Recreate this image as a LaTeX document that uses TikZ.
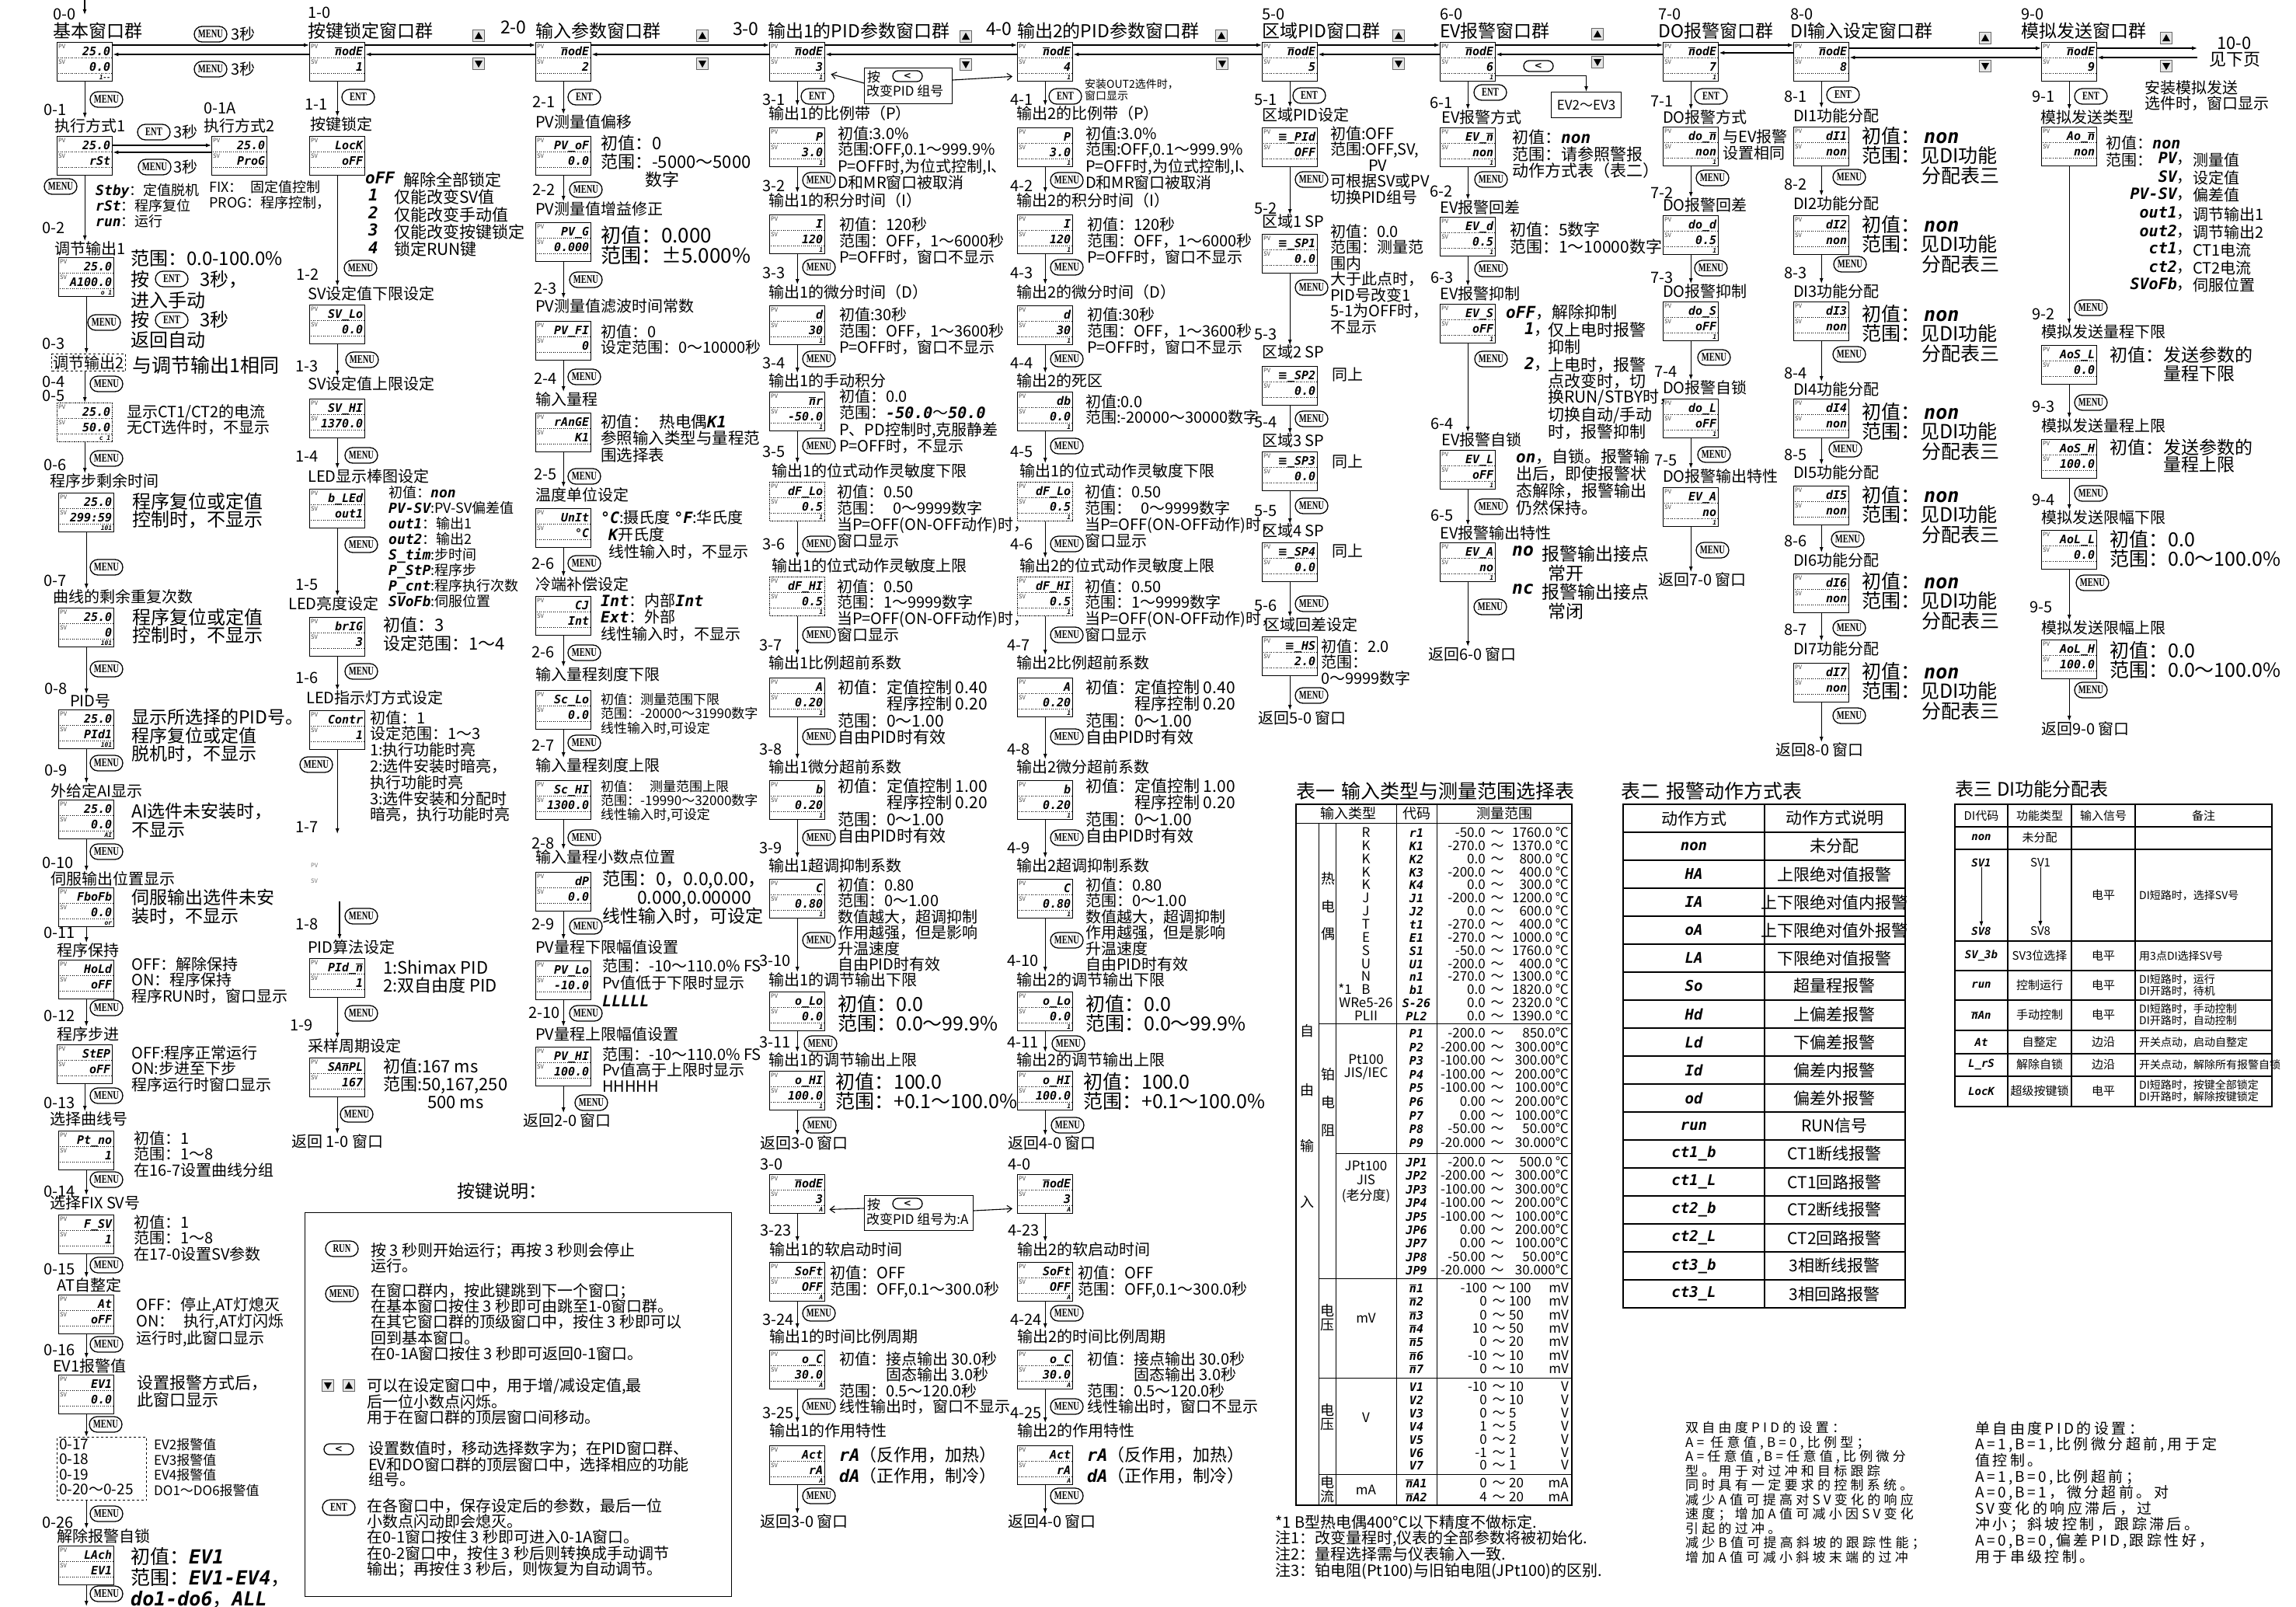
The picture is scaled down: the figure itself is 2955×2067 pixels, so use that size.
\documentclass[tikz,border=0pt]{standalone}
\usepackage{fontspec}
\usepackage{graphicx}
\setmainfont{Noto Sans CJK SC}
\newfontfamily\segfont{DejaVu Sans Mono}
\newfontfamily\djv{DejaVu Sans}
\newfontfamily\keyfont{Liberation Serif}
\usetikzlibrary{arrows.meta, positioning, calc, shapes.misc}

\newcommand{\fs}[2]{\fontsize{#1}{#2}\selectfont}
\newcommand{\sg}[1]{{\segfont\bfseries\itshape #1}}
\newcommand{\mm}{\ensuremath{\overline{\mbox{n}}}}
\newcommand{\zz}{{\djv\bfseries ≡}}
\newcommand{\kt}[1]{\scalebox{0.7}[1]{#1}}
% one display window: name, left, top, PV, SV, index
\newcommand{\lcd}[7][]{%
  \node[lcdbox,#1] (#2) at (#3,#4) {};
  \node[lcdtag] at ($(#2.north west)+(2,3)$) {PV};
  \node[lcdtag] at ($(#2.north west)+(2,23)$) {SV};
  \draw[dotted, line width=0.6pt] ($(#2.north west)+(2,20)$) -- ($(#2.north east)+(-2,20)$);
  \draw[dotted, line width=0.6pt] ($(#2.north west)+(2,40)$) -- ($(#2.north east)+(-2,40)$);
  \node[lcdval] at ($(#2.north east)+(-3,17)$) {#5};
  \node[lcdval] at ($(#2.north east)+(-3,37)$) {#6};
  \node[lcdidx] at ($(#2.north east)+(-3,48)$) {#7};
}
% table rows (baseline y)
\newcommand{\trow}[5]{%
  \node[tcell] at (1758,#1) {#2};
  \node[tcode] at (1823,#1) {#3};
  \node[tcell,anchor=base east] at (1912,#1) {#4};
  \node[tcell] at (1927,#1) {～};
  \node[tcell,anchor=base east] at (2019,#1) {#5};
}
\newcommand{\trowb}[5]{%
  \node[tcode] at (1823,#1) {#2};
  \node[tcell,anchor=base east] at (1914,#1) {#3};
  \node[tcell] at (1929,#1) {～};
  \node[tcell,anchor=base west] at (1942,#1) {#4};
  \node[tcell,anchor=base east] at (2019,#1) {#5};
}
\newcommand{\arow}[3]{%
  \node[acode] at (2180,#1) {#2};
  \node[acell] at (2361,#1) {#3};
}

\begin{document}
\begin{tikzpicture}[x=1pt, y=-1pt,
  arr/.style={-{Latex[length=7pt,width=5pt]}, line width=1.1pt},
  arrb/.style={-{Straight Barb[length=6pt,width=9pt]}, line width=1.1pt},
  lcdbox/.style={draw, line width=1.4pt, anchor=north west, minimum width=71pt, minimum height=50pt, inner sep=0pt},
  lcdtag/.style={anchor=north west, inner sep=0pt, font=\fs{7.5}{7.5}, text=black!75},
  lcdval/.style={anchor=base east, inner sep=0pt, font=\fs{15}{15}\segfont\bfseries\itshape},
  lcdidx/.style={anchor=base east, inner sep=0pt, font=\fs{8}{8}\segfont\bfseries\itshape},
  keycap/.style={draw, line width=1.3pt, rounded rectangle, minimum width=44pt, minimum height=20pt, inner sep=1pt, font=\fs{15}{15}\keyfont\bfseries},
  lkey/.style={keycap, minimum width=40pt, minimum height=14pt, font=\fs{12}{12}\djv\bfseries},
  upbtn/.style={draw=black!60, fill=black!10, minimum size=15pt, inner sep=0pt,
    path picture={\fill[black] ([shift={(-5pt,-4pt)}]path picture bounding box.center) -- ([shift={(5pt,-4pt)}]path picture bounding box.center) -- ([shift={(0pt,5pt)}]path picture bounding box.center) -- cycle;}},
  dnbtn/.style={draw=black!60, fill=black!10, minimum size=15pt, inner sep=0pt,
    path picture={\fill[black] ([shift={(-5pt,4pt)}]path picture bounding box.center) -- ([shift={(5pt,4pt)}]path picture bounding box.center) -- ([shift={(0pt,-5pt)}]path picture bounding box.center) -- cycle;}},
  secno/.style={anchor=north west, inner sep=0pt, font=\fs{20}{20}},
  hdr/.style={anchor=north west, inner sep=0pt, font=\fs{23}{23}},
  ttl/.style={anchor=north west, inner sep=0pt, font=\fs{20}{20}},
  txt/.style={anchor=north west, inner sep=0pt, align=left},
  t14/.style={txt, font=\fs{14}{14.5}},
  t17/.style={txt, font=\fs{17}{18.5}},
  t18/.style={txt, font=\fs{18}{20}},
  t20/.style={txt, font=\fs{20}{20.5}},
  t21/.style={txt, font=\fs{21}{21.5}},
  t22/.style={txt, font=\fs{22}{23}},
  t23/.style={txt, font=\fs{23}{23.5}},
  t25/.style={txt, font=\fs{25}{25.5}},
  t26/.style={txt, font=\fs{26}{26}},
  tcell/.style={inner sep=0pt, anchor=base, font=\fs{17}{17}},
  tcode/.style={inner sep=0pt, anchor=base, font=\fs{15}{15}\segfont\bfseries\itshape},
  acode/.style={inner sep=0pt, font=\fs{19}{19}\segfont\bfseries\itshape},
  acell/.style={inner sep=0pt, font=\fs{21}{21}},
  dcell/.style={inner sep=0pt, font=\fs{15}{15}},
  dcode/.style={inner sep=0pt, font=\fs{14}{14}\segfont\bfseries\itshape},
  dnote/.style={inner sep=0pt, anchor=west, align=left, font=\fs{14}{14.5}}
]
\fill[white] (0,0) rectangle (2955,2067);
\useasboundingbox (0,0) rectangle (2955,2067);

% ---------------- 0: basic windows
\coordinate (in0) at (109,0);
\coordinate (in1) at (109,19);
\draw[arr] (in0) -- (in1);
\node[secno] at (68,11) {0-0};
\node[hdr] at (68,29) {基本窗口群};
\lcd{d00}{73}{54}{25.0}{0.0}{1-{}-}
\node[keycap] (k001) at (271,44) {\kt{MENU}};
\node[ttl,anchor=west] at ($(k001.east)+(5,0)$) {3秒};
\node[keycap] (k002) at (271,89) {\kt{MENU}};
\node[ttl,anchor=west] at ($(k002.east)+(5,0)$) {3秒};

\node[keycap] (k01) at (137,128) {\kt{MENU}};
\node[secno] at (56,134) {0-1};
\node[ttl] (t01) at (70,152) {执行方式1};
\draw[arr] (d00) -- (d00.south |- t01.north);
\lcd{d01}{73}{175}{25.0}{rSt}{}
\node[keycap] (k01e) at (198,170) {\kt{ENT}};
\node[ttl,anchor=west] at ($(k01e.east)+(4,0)$) {3秒};
\node[secno] at (262,132) {0-1A};
\node[ttl] (t01a) at (262,152) {执行方式2};
\lcd{d01a}{272}{175}{25.0}{ProG}{}
\draw[arr] ($(d01.north east)+(0,12)$) -- ($(d01a.north west)+(0,12)$);
\draw[arr] ($(d01a.north west)+(0,21)$) -- ($(d01.north east)+(0,21)$);
\node[keycap] (k01m) at (199,215) {\kt{MENU}};
\node[ttl,anchor=west] at ($(k01m.east)+(3,0)$) {3秒};
\node[keycap] (k02) at (78,240) {\kt{MENU}};
\node[t18] at (123,236) {\sg{Stby}：定值脱机\\\sg{rSt}：程序复位\\\sg{run}：运行};
\node[t18] at (269,232) {FIX：\hspace{10pt}固定值控制\\PROG：程序控制，};

\node[secno] at (54,286) {0-2};
\node[ttl] (t02) at (70,310) {调节输出1};
\draw[arr] (d01) -- (d01.south |- t02.north);
\lcd{d02}{75}{331}{25.0}{A100.0}{o 1}
\node[txt,font=\fs{24}{24}] at (168,321) {范围：0.0-100.0\%};
\node[txt,font=\fs{24}{24}] at (168,348) {按};
\node[keycap] (k02e) at (221,359) {\kt{ENT}};
\node[txt,font=\fs{24}{24}] at (257,348) {3秒，};
\node[txt,font=\fs{24}{24}] at (168,375) {进入手动};
\node[txt,font=\fs{24}{24}] at (168,400) {按};
\node[keycap] (k02f) at (221,412) {\kt{ENT}};
\node[txt,font=\fs{24}{24}] at (257,400) {3秒};
\node[txt,font=\fs{24}{24}] at (168,426) {返回自动};
\node[keycap] (k03) at (134,415) {\kt{MENU}};

\node[secno] at (54,435) {0-3};
\node[ttl, draw, dashed, line width=1pt, inner sep=2pt] (t03) at (66,455) {调节输出2};
\draw[arr] (d02) -- (d02.south |- t03.north);
\node[txt,font=\fs{25}{25}] at (170,458) {与调节输出1相同};
\node[secno] at (54,484) {0-4};
\node[secno] at (54,502) {0-5};
\node[keycap] (k04) at (137,494) {\kt{MENU}};
\lcd[densely dotted]{d05}{73}{518}{25.0}{50.0}{c 1}
\draw[arr] (t03.south -| d05.north) -- (d05.north);
\node[t20] at (163,520) {显示CT1/CT2的电流\\无CT选件时，不显示};

\node[keycap] (k06) at (137,590) {\kt{MENU}};
\node[secno] at (56,591) {0-6};
\node[ttl] (t06) at (64,609) {程序步剩余时间};
\draw[arr] (d05) -- (d05.south |- t06.north);
\lcd{d06}{75}{634}{25.0}{299:59}{101}
\node[txt,font=\fs{24}{23}] at (170,634) {程序复位或定值\\控制时，不显示};

\node[keycap] (k07) at (137,730) {\kt{MENU}};
\node[secno] at (56,740) {0-7};
\node[ttl] (t07) at (68,758) {曲线的剩余重复次数};
\draw[arr] (d06) -- (d06.south |- t07.north);
\lcd{d07}{75}{782}{25.0}{0}{101}
\node[txt,font=\fs{24}{23}] at (170,783) {程序复位或定值\\控制时，不显示};

\node[keycap] (k08) at (137,861) {\kt{MENU}};
\node[secno] at (57,879) {0-8};
\node[ttl] (t08) at (90,893) {PID号};
\draw[arr] (d07) -- (d07.south |- t08.north);
\lcd{d08}{75}{913}{25.0}{PId1}{101}
\node[t23] at (169,912) {显示所选择的PID号。\\程序复位或定值\\脱机时，不显示};

\node[keycap] (k09) at (137,982) {\kt{MENU}};
\node[secno] at (57,984) {0-9};
\node[ttl] (t09) at (65,1008) {外给定AI显示};
\draw[arr] (d08) -- (d08.south |- t09.north);
\lcd{d09}{75}{1029}{25.0}{0.0}{AI}
\node[t23] at (169,1033) {AI选件未安装时，\\不显示};

\node[keycap] (k010) at (137,1096) {\kt{MENU}};
\node[secno] at (54,1103) {0-10};
\node[ttl] (t010) at (65,1121) {伺服输出位置显示};
\draw[arr] (d09) -- (d09.south |- t010.north);
\lcd{d010}{75}{1142}{FboFb}{0.0}{or}
\node[t23] at (169,1144) {伺服输出选件未安\\装时，不显示};

\node[secno] at (56,1193) {0-11};
\node[ttl] (t011) at (73,1213) {程序保持};
\draw[arr] (d010) -- (d010.south |- t011.north);
\lcd{d011}{75}{1235}{HoLd}{oFF}{}
\node[t20] at (169,1231) {OFF：解除保持\\ON：程序保持\\程序RUN时，窗口显示};

\node[keycap] (k012) at (137,1297) {\kt{MENU}};
\node[secno] at (56,1300) {0-12};
\node[ttl] (t012) at (73,1321) {程序步进};
\draw[arr] (d011) -- (d011.south |- t012.north);
\lcd{d012}{73}{1344}{StEP}{oFF}{}
\node[t20] at (169,1345) {OFF:程序正常运行\\ON:步进至下步\\程序运行时窗口显示};

\node[keycap] (k013) at (137,1410) {\kt{MENU}};
\node[secno] at (56,1412) {0-13};
\node[ttl] (t013) at (64,1430) {选择曲线号};
\draw[arr] (d012) -- (d012.south |- t013.north);
\lcd{d013}{75}{1455}{Pt\_no}{1}{}
\node[t20] at (172,1455) {初值：1\\范围：1～8\\在16-7设置曲线分组};

\node[keycap] (k014) at (137,1518) {\kt{MENU}};
\node[secno] at (56,1526) {0-14};
\node[ttl] (t014) at (64,1538) {选择FIX SV号};
\draw[arr] (d013) -- (d013.south |- t014.north);
\lcd{d014}{75}{1563}{F\_SV}{1}{}
\node[t20] at (172,1563) {初值：1\\范围：1～8\\在17-0设置SV参数};

\node[keycap] (k015) at (137,1628) {\kt{MENU}};
\node[secno] at (56,1626) {0-15};
\node[ttl] (t015) at (73,1644) {AT自整定};
\draw[arr] (d014) -- (d014.south |- t015.north);
\lcd{d015}{75}{1666}{At}{oFF}{}
\node[txt,font=\fs{20}{21.5}] at (175,1669) {OFF：停止,AT灯熄灭\\ON：\hspace{12pt}执行,AT灯闪烁\\运行时,此窗口显示};

\node[keycap] (k016) at (137,1730) {\kt{MENU}};
\node[secno] at (56,1730) {0-16};
\node[ttl] (t016) at (68,1748) {EV1报警值};
\draw[arr] (d015) -- (d015.south |- t016.north);
\lcd{d016}{75}{1769}{EV1}{0.0}{}
\node[t21] at (176,1770) {设置报警方式后，\\此窗口显示};

\node[keycap] (k017) at (136,1833) {\kt{MENU}};
\node[draw, dashed, line width=1pt, anchor=north west, minimum width=115pt, minimum height=81pt, inner sep=0pt] (b017) at (73,1849) {};
\draw[arr] (d016) -- (d016.south |- b017.north);
\node[txt,font=\fs{19}{19.5}] at (76,1851) {0-17\\0-18\\0-19\\0-20～0-25};
\node[txt,font=\fs{17}{19.5}] at (198,1851) {EV2报警值\\EV3报警值\\EV4报警值\\DO1～DO6报警值};

\node[keycap] (k026) at (137,1948) {\kt{MENU}};
\node[secno] at (54,1952) {0-26};
\node[ttl] (t026) at (73,1967) {解除报警自锁};
\draw[arr] (b017.south -| d016.south) -- (t026.north -| d016.south);
\lcd{d026}{75}{1989}{LAch}{EV1}{}
\node[txt,font=\fs{25}{27}] at (168,1991) {初值：\sg{EV1}\\范围：\sg{EV1-EV4}，\\\sg{do1-do6}，\sg{ALL}};
\node[keycap] (k027) at (137,2051) {\kt{MENU}};
\coordinate (bot0) at (107,2067);
\draw[arr] (d026) -- (d026.south |- bot0);

% ---------------- 1: key lock
\node[secno] at (396,9) {1-0};
\node[hdr] at (396,29) {按键锁定窗口群};
\node[upbtn] (u10) at (616,46) {};
\node[dnbtn] (v10) at (616,82) {};
\lcd{d10}{398}{54}{\mm odE}{1}{}
\node[keycap] (k11) at (461,125) {\kt{ENT}};
\node[secno] at (392,127) {1-1};
\node[ttl] (t11) at (399,150) {按键锁定};
\draw[arr] (d10) -- (d10.south |- t11.north);
\lcd{d11}{398}{175}{LocK}{oFF}{}
\node[t21] at (470,221) {\sg{oFF}};
\node[t21] at (519,221) {解除全部锁定};
\node[t21] at (474,243) {\sg{1}};
\node[t21] at (507,243) {仅能改变SV值};
\node[t21] at (474,266) {\sg{2}};
\node[t21] at (507,266) {仅能改变手动值};
\node[t21] at (474,288) {\sg{3}};
\node[t21] at (507,288) {仅能改变按键锁定};
\node[t21] at (474,311) {\sg{4}};
\node[t21] at (507,311) {锁定RUN键};

\node[keycap] (k12) at (464,345) {\kt{MENU}};
\node[secno] at (381,346) {1-2};
\node[ttl] (t12) at (396,368) {SV设定值下限设定};
\draw[arr] (d11) -- (d11.south |- t12.north);
\lcd{d12}{398}{392}{SV\_Lo}{0.0}{}

\node[keycap] (k13) at (466,463) {\kt{MENU}};
\node[secno] at (380,464) {1-3};
\node[ttl] (t13) at (396,484) {SV设定值上限设定};
\draw[arr] (d12) -- (d12.south |- t13.north);
\lcd{d13}{398}{513}{SV\_HI}{1370.0}{}

\node[keycap] (k14) at (465,586) {\kt{MENU}};
\node[secno] at (380,580) {1-4};
\node[ttl] (t14) at (396,603) {LED显示棒图设定};
\draw[arr] (d13) -- (d13.south |- t14.north);
\lcd{d14}{398}{629}{b\_LEd}{out1}{}
\node[t18] at (500,625) {初值：\sg{non}\\\sg{PV-SV}:PV-SV偏差值\\\sg{out1}：输出1\\\sg{out2}：输出2\\\sg{S\_tim}:步时间\\\sg{P\_StP}:程序步\\\sg{P\_cnt}:程序执行次数\\\sg{SVoFb}:伺服位置};

\node[keycap] (k15) at (465,701) {\kt{MENU}};
\node[secno] at (380,745) {1-5};
\node[ttl] (t15) at (371,767) {LED亮度设定};
\draw[arr] (d14) -- (d14.south |- t15.north);
\lcd{d15}{398}{794}{brIG}{3}{}
\node[txt,font=\fs{22}{24}] at (493,794) {初值：3\\设定范围：1～4};

\node[keycap] (k16) at (465,864) {\kt{MENU}};
\node[secno] at (380,865) {1-6};
\node[ttl] (t16) at (394,888) {LED指示灯方式设定};
\draw[arr] (d15) -- (d15.south |- t16.north);
\lcd{d16}{398}{914}{Contr}{1}{}
\node[txt,font=\fs{20}{20.8}] at (476,914) {初值：1\\设定范围：1～3\\1:执行功能时亮\\2:选件安装时暗亮，\\执行功能时亮\\3:选件安装和分配时\\暗亮，执行功能时亮};
\node[keycap] (k16m) at (407,984) {\kt{MENU}};

\node[secno] at (380,1057) {1-7};
\coordinate (c17) at (437,1073);
\draw[arr] (d16) -- (d16.south |- c17);
\node[lcdtag, text=black!55] at (400,1111) {PV};
\node[lcdtag, text=black!55] at (400,1131) {SV};
\coordinate (c17b) at (437,1160);
\node[keycap] (k18) at (465,1179) {\kt{MENU}};
\node[secno] at (380,1182) {1-8};
\node[ttl] (t18) at (396,1209) {PID算法设定};
\draw[arr] (c17b) -- (c17b |- t18.north);
\lcd{d18}{398}{1233}{PId\_\mm}{1}{}
\node[t22] at (493,1236) {1:Shimax PID\\2:双自由度 PID};

\node[keycap] (k19) at (465,1304) {\kt{MENU}};
\node[secno] at (373,1312) {1-9};
\node[ttl] (t19) at (396,1336) {采样周期设定};
\draw[arr] (d18) -- (d18.south |- t19.north);
\lcd{d19}{398}{1361}{SA\mm PL}{167}{}
\node[t22] at (493,1362) {初值:167 ms\\范围:50,167,250\\\hspace*{57pt}500 ms};
\node[keycap] (k1r) at (459,1434) {\kt{MENU}};
\node[ttl] (r10) at (375,1459) {返回 1-0 窗口};
\draw[arr] (d19) -- (d19.south |- r10.north);

% ---------------- 2: input parameters
\node[hdr] at (644,27) {2-0};
\node[hdr] at (689,29) {输入参数窗口群};
\node[upbtn] (u20) at (904,46) {};
\node[dnbtn] (v20) at (904,82) {};
\lcd{d20}{689}{54}{\mm odE}{2}{}
\node[keycap] (k21) at (752,125) {\kt{ENT}};
\node[secno] at (685,124) {2-1};
\node[ttl] (t21) at (689,147) {PV测量值偏移};
\draw[arr] (d20) -- (d20.south |- t21.north);
\lcd{d21}{689}{175}{PV\_oF}{0.0}{}
\node[txt,font=\fs{22}{23.5}] at (773,174) {初值：0\\范围：-5000～5000\\\hspace*{57pt}数字};

\node[keycap] (k22) at (754,244) {\kt{MENU}};
\node[secno] at (685,237) {2-2};
\node[ttl] (t22) at (689,259) {PV测量值增益修正};
\draw[arr] (d21) -- (d21.south |- t22.north);
\lcd{d22}{689}{286}{PV\_G}{0.000}{}
\node[t26] at (773,290) {初值：0.000\\范围：±5.000\%};

\node[keycap] (k23) at (754,360) {\kt{MENU}};
\node[secno] at (687,364) {2-3};
\node[ttl] (t23) at (689,384) {PV测量值滤波时间常数};
\draw[arr] (d22) -- (d22.south |- t23.north);
\lcd{d23}{689}{413}{PV\_FI}{0}{}
\node[t20] at (773,417) {初值：0\\设定范围：0～10000秒};

\node[keycap] (k24) at (752,485) {\kt{MENU}};
\node[secno] at (687,480) {2-4};
\node[ttl] (t24) at (689,504) {输入量程};
\draw[arr] (d23) -- (d23.south |- t24.north);
\lcd{d24}{689}{531}{rAnGE}{K1}{}
\node[txt,font=\fs{20.5}{21.5}] at (773,533) {初值：\hspace{14pt}热电偶\sg{K1}\\参照输入类型与量程范\\围选择表};

\node[keycap] (k25) at (752,613) {\kt{MENU}};
\node[secno] at (687,603) {2-5};
\node[ttl] (t25) at (689,627) {温度单位设定};
\draw[arr] (d24) -- (d24.south |- t25.north);
\lcd{d25}{689}{654}{UnIt}{°C}{}
\node[txt,font=\fs{20}{22}] at (773,656) {\sg{°C}:摄氏度 \sg{°F}:华氏度\\\hspace*{10pt}\sg{K}开氏度\\\hspace*{10pt}线性输入时，不显示};

\node[keycap] (k26) at (752,725) {\kt{MENU}};
\node[secno] at (684,718) {2-6};
\node[ttl] (t26) at (689,742) {冷端补偿设定};
\draw[arr] (d25) -- (d25.south |- t26.north);
\lcd{d26}{689}{767}{CJ}{Int}{}
\node[txt,font=\fs{20}{21.5}] at (773,763) {\sg{Int}：内部\sg{Int}\\\sg{Ext}：外部\\线性输入时，不显示};

\node[keycap] (k27) at (752,840) {\kt{MENU}};
\node[secno] at (684,832) {2-6};
\node[ttl] (t27) at (689,858) {输入量程刻度下限};
\draw[arr] (d26) -- (d26.south |- t27.north);
\lcd{d27}{689}{888}{Sc\_Lo}{0.0}{}
\node[t17] at (773,892) {初值：测量范围下限\\范围：-20000～31990数字\\线性输入时,可设定};

\node[keycap] (k28) at (752,956) {\kt{MENU}};
\node[secno] at (684,952) {2-7};
\node[ttl] (t28) at (689,975) {输入量程刻度上限};
\draw[arr] (d27) -- (d27.south |- t28.north);
\lcd{d28}{689}{1004}{Sc\_HI}{1300.0}{}
\node[txt,font=\fs{17}{18}] at (773,1004) {初值：\hspace{12pt}测量范围上限\\范围：-19990～32000数字\\线性输入时,可设定};

\node[keycap] (k29) at (752,1078) {\kt{MENU}};
\node[secno] at (684,1078) {2-8};
\node[ttl] (t29) at (689,1093) {输入量程小数点位置};
\draw[arr] (d28) -- (d28.south |- t29.north);
\lcd{d29}{689}{1122}{dP}{0.0}{}
\node[t23] at (775,1120) {范围：0，0.0,0.00，\\\hspace*{45pt}0.000,0.00000\\线性输入时，可设定};

\node[keycap] (k210) at (754,1192) {\kt{MENU}};
\node[secno] at (684,1182) {2-9};
\node[ttl] (t210) at (689,1209) {PV量程下限幅值设置};
\draw[arr] (d29) -- (d29.south |- t210.north);
\lcd{d210}{689}{1236}{PV\_Lo}{-10.0}{}
\node[txt,font=\fs{20}{22.5}] at (775,1233) {范围：-10～110.0\% FS\\Pv值低于下限时显示\\\sg{LLLLL}};

\node[keycap] (k211) at (754,1304) {\kt{MENU}};
\node[secno] at (680,1296) {2-10};
\node[ttl] (t211) at (689,1321) {PV量程上限幅值设置};
\draw[arr] (d210) -- (d210.south |- t211.north);
\lcd{d211}{689}{1347}{PV\_HI}{100.0}{}
\node[t20] at (775,1347) {范围：-10～110.0\% FS\\Pv值高于上限时显示\\HHHHH};
\node[keycap] (k2r) at (761,1419) {\kt{MENU}};
\node[ttl] (r20) at (673,1432) {返回2-0 窗口};
\draw[arr] (d211) -- (d211.south |- r20.north);

% ---------------- 3: PID of output 1
\node[hdr] at (943,29) {3-0};
\node[hdr] at (988,29) {输出1的PID参数窗口群};
\node[upbtn] (u30) at (1243,47) {};
\node[dnbtn] (v30) at (1243,83) {};
\lcd{d30}{990}{54}{\mm odE}{3}{1}
\node[draw, line width=1.1pt, anchor=north west, minimum width=113pt, minimum height=46pt, inner sep=0pt] (cb30) at (1112,87) {};
\node[t17] at (1116,91) {按};
\node[lkey] (kc30) at (1168,98) {<};
\node[t17] at (1115,109) {改变PID 组号};

\node[keycap] (k31) at (1052,124) {\kt{ENT}};
\node[secno] at (981,121) {3-1};
\node[ttl] (t31) at (989,136) {输出1的比例带（P）};
\draw[arr] (d30) -- (d30.south |- t31.north);
\lcd{d31}{990}{164}{P}{3.0}{1}
\node[t20] at (1078,162) {初值:3.0\%\\范围:OFF,0.1～999.9\%\\P=OFF时,为位式控制,I、\\D和MR窗口被取消};

\node[keycap] (k32) at (1054,232) {\kt{MENU}};
\node[secno] at (981,232) {3-2};
\node[ttl] (t32) at (989,248) {输出1的积分时间（I）};
\draw[arr] (d31) -- (d31.south |- t32.north);
\lcd{d32}{990}{276}{I}{120}{1}
\node[txt,font=\fs{20}{21}] at (1080,279) {初值：120秒\\范围：OFF，1～6000秒\\P=OFF时，窗口不显示};

\node[keycap] (k33) at (1054,344) {\kt{MENU}};
\node[secno] at (981,344) {3-3};
\node[ttl] (t33) at (989,366) {输出1的微分时间（D）};
\draw[arr] (d32) -- (d32.south |- t33.north);
\lcd{d33}{990}{393}{d}{30}{1}
\node[txt,font=\fs{20}{21}] at (1080,395) {初值:30秒\\范围：OFF，1～3600秒\\P=OFF时，窗口不显示};

\node[keycap] (k34) at (1054,462) {\kt{MENU}};
\node[secno] at (981,460) {3-4};
\node[ttl] (t34) at (989,480) {输出1的手动积分};
\draw[arr] (d33) -- (d33.south |- t34.north);
\lcd{d34}{990}{504}{\mm r}{-50.0}{1}
\node[txt,font=\fs{20}{21.5}] at (1080,500) {初值：0.0\\范围：\sg{-50.0}～\sg{50.0}\\P、PD控制时,克服静差\\P=OFF时，不显示};

\node[keycap] (k35) at (1054,574) {\kt{MENU}};
\node[secno] at (981,574) {3-5};
\node[ttl] (t35) at (993,596) {输出1的位式动作灵敏度下限};
\draw[arr] (d34) -- (d34.south |- t35.north);
\lcd[densely dotted]{d35}{990}{620}{dF\_Lo}{0.5}{1}
\node[txt,font=\fs{20}{21}] at (1077,623) {初值：0.50\\范围：\hspace{12pt}0～9999数字\\当P=OFF(ON-OFF动作)时，\\窗口显示};

\node[keycap] (k36) at (1054,700) {\kt{MENU}};
\node[secno] at (981,693) {3-6};
\node[ttl] (t36) at (993,718) {输出1的位式动作灵敏度上限};
\draw[arr] (d35) -- (d35.south |- t36.north);
\lcd[densely dotted]{d36}{990}{742}{dF\_HI}{0.5}{1}
\node[t20] at (1077,745) {初值：0.50\\范围：1～9999数字\\当P=OFF(ON-OFF动作)时，\\窗口显示};

\node[keycap] (k37) at (1054,817) {\kt{MENU}};
\node[secno] at (977,823) {3-7};
\node[ttl] (t37) at (989,843) {输出1比例超前系数};
\draw[arr] (d36) -- (d36.south |- t37.north);
\lcd{d37}{990}{872}{A}{0.20}{1}
\node[t21] at (1078,874) {初值：定值控制 0.40\\\hspace*{63pt}程序控制 0.20\\范围：0～1.00\\自由PID时有效};

\node[keycap] (k38) at (1054,948) {\kt{MENU}};
\node[secno] at (977,957) {3-8};
\node[ttl] (t38) at (989,977) {输出1微分超前系数};
\draw[arr] (d37) -- (d37.south |- t38.north);
\lcd{d38}{990}{1004}{b}{0.20}{1}
\node[t21] at (1078,1001) {初值：定值控制 1.00\\\hspace*{63pt}程序控制 0.20\\范围：0～1.00\\自由PID时有效};

\node[keycap] (k39) at (1054,1078) {\kt{MENU}};
\node[secno] at (977,1084) {3-9};
\node[ttl] (t39) at (989,1104) {输出1超调抑制系数};
\draw[arr] (d38) -- (d38.south |- t39.north);
\lcd{d39}{990}{1131}{C}{0.80}{1}
\node[t20] at (1078,1129) {初值：0.80\\范围：0～1.00\\数值越大，超调抑制\\作用越强，但是影响\\升温速度\\自由PID时有效};

\node[keycap] (k310) at (1054,1210) {\kt{MENU}};
\node[secno] at (977,1229) {3-10};
\node[ttl] (t310) at (989,1251) {输出1的调节输出下限};
\draw[arr] (d39) -- (d39.south |- t310.north);
\lcd{d310}{990}{1276}{o\_Lo}{0.0}{1}
\node[t25] at (1078,1280) {初值：0.0\\范围：0.0～99.9\%};

\node[keycap] (k311) at (1056,1343) {\kt{MENU}};
\node[secno] at (977,1334) {3-11};
\node[ttl] (t311) at (989,1354) {输出1的调节输出上限};
\draw[arr] (d310) -- (d310.south |- t311.north);
\lcd{d311}{990}{1378}{o\_HI}{100.0}{1}
\node[t25] at (1075,1380) {初值：100.0\\范围：+0.1～100.0\%};
\node[keycap] (k3r) at (1055,1448) {\kt{MENU}};
\node[ttl] (r30) at (978,1461) {返回3-0 窗口};
\draw[arr] (d311) -- (d311.south |- r30.north);

\node[secno] at (978,1491) {3-0};
\lcd{d30a}{990}{1511}{\mm odE}{3}{A}
\node[draw, line width=1.1pt, anchor=north west, minimum width=140pt, minimum height=45pt, inner sep=0pt] (cb30a) at (1112,1538) {};
\node[t17] at (1116,1542) {按};
\node[lkey] (kc30a) at (1168,1549) {<};
\node[t17] at (1115,1561) {改变PID 组号为:A};

\node[secno] at (978,1576) {3-23};
\node[ttl] (t323) at (990,1598) {输出1的软启动时间};
\draw[arr] (d30a) -- (d30a.south |- t323.north);
\lcd{d323}{990}{1624}{SoFt}{OFF}{A}
\node[txt,font=\fs{20}{21}] at (1068,1628) {初值：OFF\\范围：OFF,0.1～300.0秒};

\node[keycap] (k324) at (1054,1690) {\kt{MENU}};
\node[secno] at (981,1691) {3-24};
\node[ttl] (t324) at (990,1710) {输出1的时间比例周期};
\draw[arr] (d323) -- (d323.south |- t324.north);
\lcd{d324}{990}{1737}{o\_C}{30.0}{A}
\node[t20] at (1080,1739) {初值：接点输出 30.0秒\\\hspace*{60pt}固态输出 3.0秒\\范围：0.5～120.0秒\\线性输出时，窗口不显示};

\node[keycap] (k325) at (1054,1810) {\kt{MENU}};
\node[secno] at (981,1811) {3-25};
\node[ttl] (t325) at (990,1831) {输出1的作用特性};
\draw[arr] (d324) -- (d324.south |- t325.north);
\lcd{d325}{990}{1860}{Act}{rA}{A}
\node[txt,font=\fs{22}{27}] at (1080,1861) {\sg{rA}（反作用，加热）\\\sg{dA}（正作用，制冷）};
\node[keycap] (k3r2) at (1054,1925) {\kt{MENU}};
\node[ttl] (r30b) at (978,1948) {返回3-0 窗口};
\draw[arr] (d325) -- (d325.south |- r30b.north);

% ---------------- 4: PID of output 2
\node[hdr] at (1269,29) {4-0};
\node[hdr] at (1309,29) {输出2的PID参数窗口群};
\node[upbtn] (u40) at (1572,46) {};
\node[dnbtn] (v40) at (1573,82) {};
\lcd{d40}{1309}{54}{\mm odE}{4}{1}
\node[t14] at (1396,102) {安装OUT2选件时，\\窗口显示};

\node[keycap] (k41) at (1371,124) {\kt{ENT}};
\node[secno] at (1300,121) {4-1};
\node[ttl] (t41) at (1308,136) {输出2的比例带（P）};
\draw[arr] (d40) -- (d40.south |- t41.north);
\lcd{d41}{1309}{164}{P}{3.0}{1}
\node[t20] at (1397,162) {初值:3.0\%\\范围:OFF,0.1～999.9\%\\P=OFF时,为位式控制,I、\\D和MR窗口被取消};

\node[keycap] (k42) at (1373,232) {\kt{MENU}};
\node[secno] at (1300,232) {4-2};
\node[ttl] (t42) at (1308,248) {输出2的积分时间（I）};
\draw[arr] (d41) -- (d41.south |- t42.north);
\lcd{d42}{1309}{276}{I}{120}{1}
\node[txt,font=\fs{20}{21}] at (1399,279) {初值：120秒\\范围：OFF，1～6000秒\\P=OFF时，窗口不显示};

\node[keycap] (k43) at (1373,344) {\kt{MENU}};
\node[secno] at (1300,344) {4-3};
\node[ttl] (t43) at (1308,366) {输出2的微分时间（D）};
\draw[arr] (d42) -- (d42.south |- t43.north);
\lcd{d43}{1309}{393}{d}{30}{1}
\node[txt,font=\fs{20}{21}] at (1399,395) {初值:30秒\\范围：OFF，1～3600秒\\P=OFF时，窗口不显示};

\node[keycap] (k44) at (1373,462) {\kt{MENU}};
\node[secno] at (1300,460) {4-4};
\node[ttl] (t44) at (1308,480) {输出2的死区};
\draw[arr] (d43) -- (d43.south |- t44.north);
\lcd{d44}{1309}{504}{db}{0.0}{1}
\node[t20] at (1397,507) {初值:0.0\\范围:-20000～30000数字};

\node[keycap] (k45) at (1373,574) {\kt{MENU}};
\node[secno] at (1300,574) {4-5};
\node[ttl] (t45) at (1312,596) {输出1的位式动作灵敏度下限};
\draw[arr] (d44) -- (d44.south |- t45.north);
\lcd[densely dotted]{d45}{1309}{620}{dF\_Lo}{0.5}{1}
\node[txt,font=\fs{20}{21}] at (1396,623) {初值：0.50\\范围：\hspace{12pt}0～9999数字\\当P=OFF(ON-OFF动作)时，\\窗口显示};

\node[keycap] (k46) at (1373,700) {\kt{MENU}};
\node[secno] at (1300,693) {4-6};
\node[ttl] (t46) at (1312,718) {输出2的位式动作灵敏度上限};
\draw[arr] (d45) -- (d45.south |- t46.north);
\lcd[densely dotted]{d46}{1309}{742}{dF\_HI}{0.5}{1}
\node[t20] at (1396,745) {初值：0.50\\范围：1～9999数字\\当P=OFF(ON-OFF动作)时，\\窗口显示};

\node[keycap] (k47) at (1373,817) {\kt{MENU}};
\node[secno] at (1296,823) {4-7};
\node[ttl] (t47) at (1308,843) {输出2比例超前系数};
\draw[arr] (d46) -- (d46.south |- t47.north);
\lcd{d47}{1309}{872}{A}{0.20}{1}
\node[t21] at (1397,874) {初值：定值控制 0.40\\\hspace*{63pt}程序控制 0.20\\范围：0～1.00\\自由PID时有效};

\node[keycap] (k48) at (1373,948) {\kt{MENU}};
\node[secno] at (1296,957) {4-8};
\node[ttl] (t48) at (1308,977) {输出2微分超前系数};
\draw[arr] (d47) -- (d47.south |- t48.north);
\lcd{d48}{1309}{1004}{b}{0.20}{1}
\node[t21] at (1397,1001) {初值：定值控制 1.00\\\hspace*{63pt}程序控制 0.20\\范围：0～1.00\\自由PID时有效};

\node[keycap] (k49) at (1373,1078) {\kt{MENU}};
\node[secno] at (1296,1084) {4-9};
\node[ttl] (t49) at (1308,1104) {输出2超调抑制系数};
\draw[arr] (d48) -- (d48.south |- t49.north);
\lcd{d49}{1309}{1131}{C}{0.80}{1}
\node[t20] at (1397,1129) {初值：0.80\\范围：0～1.00\\数值越大，超调抑制\\作用越强，但是影响\\升温速度\\自由PID时有效};

\node[keycap] (k410) at (1373,1210) {\kt{MENU}};
\node[secno] at (1296,1229) {4-10};
\node[ttl] (t410) at (1308,1251) {输出2的调节输出下限};
\draw[arr] (d49) -- (d49.south |- t410.north);
\lcd{d410}{1309}{1276}{o\_Lo}{0.0}{1}
\node[t25] at (1397,1280) {初值：0.0\\范围：0.0～99.9\%};

\node[keycap] (k411) at (1375,1343) {\kt{MENU}};
\node[secno] at (1296,1334) {4-11};
\node[ttl] (t411) at (1308,1354) {输出2的调节输出上限};
\draw[arr] (d410) -- (d410.south |- t411.north);
\lcd{d411}{1309}{1378}{o\_HI}{100.0}{1}
\node[t25] at (1394,1380) {初值：100.0\\范围：+0.1～100.0\%};
\node[keycap] (k4r) at (1374,1448) {\kt{MENU}};
\node[ttl] (r40) at (1297,1461) {返回4-0 窗口};
\draw[arr] (d411) -- (d411.south |- r40.north);

\node[secno] at (1297,1491) {4-0};
\lcd{d40a}{1309}{1511}{\mm odE}{3}{A}
\node[secno] at (1297,1576) {4-23};
\node[ttl] (t423) at (1309,1598) {输出2的软启动时间};
\draw[arr] (d40a) -- (d40a.south |- t423.north);
\lcd{d423}{1309}{1624}{SoFt}{OFF}{A}
\node[txt,font=\fs{20}{21}] at (1387,1628) {初值：OFF\\范围：OFF,0.1～300.0秒};

\node[keycap] (k424) at (1373,1690) {\kt{MENU}};
\node[secno] at (1300,1691) {4-24};
\node[ttl] (t424) at (1309,1710) {输出2的时间比例周期};
\draw[arr] (d423) -- (d423.south |- t424.north);
\lcd{d424}{1309}{1737}{o\_C}{30.0}{A}
\node[t20] at (1399,1739) {初值：接点输出 30.0秒\\\hspace*{60pt}固态输出 3.0秒\\范围：0.5～120.0秒\\线性输出时，窗口不显示};

\node[keycap] (k425) at (1373,1810) {\kt{MENU}};
\node[secno] at (1300,1811) {4-25};
\node[ttl] (t425) at (1309,1831) {输出2的作用特性};
\draw[arr] (d424) -- (d424.south |- t425.north);
\lcd{d425}{1309}{1860}{Act}{rA}{A}
\node[txt,font=\fs{22}{27}] at (1399,1861) {\sg{rA}（反作用，加热）\\\sg{dA}（正作用，制冷）};
\node[keycap] (k4r2) at (1373,1925) {\kt{MENU}};
\node[ttl] (r40b) at (1297,1948) {返回4-0 窗口};
\draw[arr] (d425) -- (d425.south |- r40b.north);

% callouts between 3-0 and 4-0
\draw[arrb] ($(cb30.north west)+(0,20)$) -- ($(d30.south east)+(7,-10)$);
\draw[arrb] ($(cb30.north east)+(0,16)$) -- ($(d40.south west)+(-6,-7)$);
\draw[arrb] ($(cb30a.north west)+(0,17)$) -- ($(d30a.south east)+(5,-6)$);
\draw[arrb] ($(cb30a.north east)+(0,20)$) -- ($(d40a.south west)+(-6,-7)$);

% ---------------- 5: zone PID
\node[secno] at (1624,11) {5-0};
\node[hdr] at (1624,29) {区域PID窗口群};
\node[upbtn] (u50) at (1800,46) {};
\node[dnbtn] (v50) at (1800,82) {};
\lcd{d50}{1624}{54}{\mm odE}{5}{}
\node[keycap] (k51) at (1685,123) {\kt{ENT}};
\node[secno] at (1614,121) {5-1};
\node[ttl] (t51) at (1624,138) {区域PID设定};
\draw[arr] (d50) -- (d50.south |- t51.north);
\lcd{d51}{1624}{164}{\zz\_PId}{OFF}{}
\node[t20] at (1712,162) {初值:OFF\\范围:OFF,SV,\\\hspace*{49pt}PV\\可根据SV或PV\\切换PID组号};

\node[keycap] (k52) at (1688,231) {\kt{MENU}};
\node[secno] at (1614,261) {5-2};
\node[ttl] (t52) at (1624,276) {区域1 SP};
\draw[arr] (d51) -- (d51.south |- t52.north);
\lcd{d52}{1624}{301}{\zz\_SP1}{0.0}{}
\node[t20] at (1712,288) {初值：0.0\\范围：测量范\\围内\\大于此点时，\\PID号改变1\\5-1为OFF时，\\不显示};

\node[keycap] (k53) at (1688,370) {\kt{MENU}};
\node[secno] at (1614,423) {5-3};
\node[ttl] (t53) at (1624,444) {区域2 SP};
\draw[arr] (d52) -- (d52.south |- t53.north);
\lcd{d53}{1624}{471}{\zz\_SP2}{0.0}{}
\node[t20] at (1714,473) {同上};

\node[keycap] (k54) at (1688,539) {\kt{MENU}};
\node[secno] at (1614,536) {5-4};
\node[ttl] (t54) at (1624,558) {区域3 SP};
\draw[arr] (d53) -- (d53.south |- t54.north);
\lcd{d54}{1624}{581}{\zz\_SP3}{0.0}{}
\node[t20] at (1714,585) {同上};

\node[keycap] (k55) at (1688,651) {\kt{MENU}};
\node[secno] at (1614,650) {5-5};
\node[ttl] (t55) at (1624,674) {区域4 SP};
\draw[arr] (d54) -- (d54.south |- t55.north);
\lcd{d55}{1624}{698}{\zz\_SP4}{0.0}{}
\node[t20] at (1714,700) {同上};

\node[keycap] (k56) at (1688,777) {\kt{MENU}};
\node[secno] at (1614,772) {5-6};
\node[ttl] (t56) at (1627,794) {区域回差设定};
\draw[arr] (d55) -- (d55.south |- t56.north);
\lcd{d56}{1624}{819}{\zz\_HS}{2.0}{}
\node[t20] at (1700,822) {初值：2.0\\范围：\\0～9999数字};
\node[keycap] (k5r) at (1688,895) {\kt{MENU}};
\node[ttl] (r50) at (1619,914) {返回5-0 窗口};
\draw[arr] (d56) -- (d56.south |- r50.north);

% ---------------- 6: EV alarms
\node[secno] at (1853,11) {6-0};
\node[hdr] at (1853,29) {EV报警窗口群};
\node[upbtn] (u60) at (2056,44) {};
\node[dnbtn] (v60) at (2056,80) {};
\lcd{d60}{1853}{54}{\mm odE}{6}{1}
\node[lkey] (kc60) at (1980,85) {<};
\node[draw, line width=1pt, anchor=north west, minimum width=90pt, minimum height=33pt, inner sep=0pt, font=\fs{17}{17}] (ev23) at (1996,118) {EV2～EV3};
\draw[arr] ($(d60.south east)+(0,-8)$) -| (ev23.north);

\node[keycap] (k61) at (1918,119) {\kt{ENT}};
\node[secno] at (1840,125) {6-1};
\node[ttl] (t61) at (1855,141) {EV报警方式};
\draw[arr] (d60) -- (d60.south |- t61.north);
\lcd{d61}{1853}{164}{EV\_\mm}{non}{1}
\node[t21] at (1946,167) {初值：\sg{non}\\范围：请参照警报\\动作方式表（表二）};

\node[keycap] (k62) at (1919,231) {\kt{MENU}};
\node[secno] at (1840,239) {6-2};
\node[ttl] (t62) at (1853,257) {EV报警回差};
\draw[arr] (d61) -- (d61.south |- t62.north);
\lcd{d62}{1853}{279}{EV\_d}{0.5}{1}
\node[t21] at (1943,286) {初值：5数字\\范围：1～10000数字};

\node[keycap] (k63) at (1919,346) {\kt{MENU}};
\node[secno] at (1841,350) {6-3};
\node[ttl] (t63) at (1853,368) {EV报警抑制};
\draw[arr] (d62) -- (d62.south |- t63.north);
\lcd{d63}{1853}{391}{EV\_S}{oFF}{1}
\node[t21] at (1938,392) {\sg{oFF}，解除抑制};
\node[t21] at (1962,415) {\sg{1}，};
\node[txt,font=\fs{21}{22}] at (1992,415) {仅上电时报警\\抑制};
\node[t21] at (1962,460) {\sg{2}，};
\node[txt,font=\fs{21}{20.5}] at (1992,460) {上电时，报警\\点改变时，切\\换RUN/STBY时，\\切换自动/手动\\时，报警抑制};
\node[keycap] (k64) at (1919,462) {\kt{MENU}};

\node[secno] at (1841,538) {6-4};
\node[ttl] (t64) at (1855,556) {EV报警自锁};
\draw[arr] (d63) -- (d63.south |- t64.north);
\lcd{d64}{1853}{579}{EV\_L}{oFF}{1}
\node[txt,font=\fs{21}{21.7}] at (1951,578) {\sg{on}，自锁。报警输\\出后，即使报警状\\态解除，报警输出\\仍然保持。};

\node[keycap] (k65) at (1919,652) {\kt{MENU}};
\node[secno] at (1841,656) {6-5};
\node[ttl] (t65) at (1853,676) {EV报警输出特性};
\draw[arr] (d64) -- (d64.south |- t65.north);
\lcd{d65}{1853}{698}{EV\_A}{no}{1}
\node[t23] at (1946,702) {\sg{no}};
\node[txt,font=\fs{23}{25}] at (1984,702) {报警输出接点\\\hspace*{8pt}常开};
\node[t23] at (1946,751) {\sg{nc}};
\node[txt,font=\fs{23}{25}] at (1984,751) {报警输出接点\\\hspace*{8pt}常闭};
\node[keycap] (k6r) at (1918,781) {\kt{MENU}};
\node[ttl] (r60) at (1838,832) {返回6-0 窗口};
\draw[arr] (d65) -- (d65.south |- r60.north);

% ---------------- 7: DO alarms
\node[secno] at (2134,11) {7-0};
\node[hdr] at (2134,29) {DO报警窗口群};
\lcd{d70}{2140}{54}{\mm odE}{7}{1}
\node[keycap] (k71) at (2202,124) {\kt{ENT}};
\node[secno] at (2124,123) {7-1};
\node[ttl] (t71) at (2140,141) {DO报警方式};
\draw[arr] (d70) -- (d70.south |- t71.north);
\lcd{d71}{2140}{163}{do\_\mm}{non}{1}
\node[txt,font=\fs{20}{21}] at (2217,166) {与EV报警\\设置相同};

\node[keycap] (k72) at (2204,229) {\kt{MENU}};
\node[secno] at (2124,241) {7-2};
\node[ttl] (t72) at (2140,254) {DO报警回差};
\draw[arr] (d71) -- (d71.south |- t72.north);
\lcd{d72}{2140}{277}{do\_d}{0.5}{1}

\node[keycap] (k73) at (2202,345) {\kt{MENU}};
\node[secno] at (2124,350) {7-3};
\node[ttl] (t73) at (2140,365) {DO报警抑制};
\draw[arr] (d72) -- (d72.south |- t73.north);
\lcd{d73}{2140}{388}{do\_S}{oFF}{1}

\node[keycap] (k74) at (2206,460) {\kt{MENU}};
\node[secno] at (2129,471) {7-4};
\node[ttl] (t74) at (2140,489) {DO报警自锁};
\draw[arr] (d73) -- (d73.south |- t74.north);
\lcd{d74}{2140}{513}{do\_L}{oFF}{1}

\node[keycap] (k75) at (2206,585) {\kt{MENU}};
\node[secno] at (2129,585) {7-5};
\node[ttl] (t75) at (2140,603) {DO报警输出特性};
\draw[arr] (d74) -- (d74.south |- t75.north);
\lcd{d75}{2140}{627}{EV\_A}{no}{1}
\node[keycap] (k7r) at (2204,708) {\kt{MENU}};
\node[ttl] (r70) at (2134,736) {返回7-0 窗口};
\draw[arr] (d75) -- (d75.south |- r70.north);

% ---------------- 8: DI inputs
\node[secno] at (2304,11) {8-0};
\node[hdr] at (2304,29) {DI输入设定窗口群};
\node[upbtn] (u80) at (2555,49) {};
\node[dnbtn] (v80) at (2555,85) {};
\lcd{d80}{2308}{54}{\mm odE}{8}{}
\node[keycap] (k81) at (2372,122) {\kt{ENT}};
\node[secno] at (2296,117) {8-1};
\node[ttl] (t81) at (2308,139) {DI1功能分配};
\draw[arr] (d80) -- (d80.south |- t81.north);
\lcd{d81}{2308}{163}{dI1}{non}{}
\node[t25] at (2396,163) {初值：\hspace{5pt}\sg{non}\\范围：见DI功能\\\hspace*{77pt}分配表三};

\node[keycap] (k82) at (2380,228) {\kt{MENU}};
\node[secno] at (2296,230) {8-2};
\node[ttl] (t82) at (2308,252) {DI2功能分配};
\draw[arr] (d81) -- (d81.south |- t82.north);
\lcd{d82}{2308}{277}{dI2}{non}{}
\node[t25] at (2396,277) {初值：\hspace{5pt}\sg{non}\\范围：见DI功能\\\hspace*{77pt}分配表三};

\node[keycap] (k83) at (2381,340) {\kt{MENU}};
\node[secno] at (2296,344) {8-3};
\node[ttl] (t83) at (2308,365) {DI3功能分配};
\draw[arr] (d82) -- (d82.south |- t83.north);
\lcd{d83}{2308}{388}{dI3}{non}{}
\node[t25] at (2396,392) {初值：\hspace{5pt}\sg{non}\\范围：见DI功能\\\hspace*{77pt}分配表三};

\node[keycap] (k84) at (2380,456) {\kt{MENU}};
\node[secno] at (2296,473) {8-4};
\node[ttl] (t84) at (2308,491) {DI4功能分配};
\draw[arr] (d83) -- (d83.south |- t84.north);
\lcd{d84}{2308}{513}{dI4}{non}{}
\node[t25] at (2396,518) {初值：\hspace{5pt}\sg{non}\\范围：见DI功能\\\hspace*{77pt}分配表三};

\node[keycap] (k85) at (2375,578) {\kt{MENU}};
\node[secno] at (2296,578) {8-5};
\node[ttl] (t85) at (2308,598) {DI5功能分配};
\draw[arr] (d84) -- (d84.south |- t85.north);
\lcd{d85}{2308}{625}{dI5}{non}{}
\node[t25] at (2396,625) {初值：\hspace{5pt}\sg{non}\\范围：见DI功能\\\hspace*{77pt}分配表三};

\node[keycap] (k86) at (2378,694) {\kt{MENU}};
\node[secno] at (2296,689) {8-6};
\node[ttl] (t86) at (2308,711) {DI6功能分配};
\draw[arr] (d85) -- (d85.south |- t86.north);
\lcd{d86}{2308}{738}{dI6}{non}{}
\node[t25] at (2396,736) {初值：\hspace{5pt}\sg{non}\\范围：见DI功能\\\hspace*{77pt}分配表三};

\node[keycap] (k87) at (2380,808) {\kt{MENU}};
\node[secno] at (2296,803) {8-7};
\node[ttl] (t87) at (2308,825) {DI7功能分配};
\draw[arr] (d86) -- (d86.south |- t87.north);
\lcd{d87}{2308}{853}{dI7}{non}{}
\node[t25] at (2396,852) {初值：\hspace{5pt}\sg{non}\\范围：见DI功能\\\hspace*{77pt}分配表三};
\node[keycap] (k8r) at (2380,921) {\kt{MENU}};
\node[ttl] (r80) at (2285,955) {返回8-0 窗口};
\draw[arr] (d87) -- (d87.south |- r80.north);

% ---------------- 9: analog transmission
\node[secno] at (2601,11) {9-0};
\node[hdr] at (2601,29) {模拟发送窗口群};
\node[upbtn] (u90) at (2788,49) {};
\node[dnbtn] (v90) at (2788,85) {};
\lcd{d90}{2627}{54}{\mm odE}{9}{}
\coordinate (pg10) at (2828,62);
\coordinate (pg10b) at (2828,74);
\draw[arr] ($(d90.north east)+(0,8)$) -- (pg10);
\draw[arr] (pg10b) -- ($(d90.north east)+(0,20)$);
\node[hdr,font=\fs{22}{22}] at (2853,47) {10-0};
\node[hdr,font=\fs{22}{22}] at (2843,67) {见下页};

\node[keycap] (k91) at (2691,124) {\kt{ENT}};
\node[secno] at (2615,117) {9-1};
\node[t20] at (2760,103) {安装模拟发送\\选件时，窗口显示};
\node[ttl] (t91) at (2626,141) {模拟发送类型};
\draw[arr] (d90) -- (d90.south |- t91.north);
\lcd{d91}{2627}{163}{Ao\_\mm}{non}{}
\node[t20] at (2710,174) {初值：\sg{non}};
\node[t20] at (2710,196) {范围：};
\node[t20,anchor=north east] at (2822,196) {\sg{PV}，};
\node[t20] at (2822,196) {测量值};
\node[t20,anchor=north east] at (2822,219) {\sg{SV}，};
\node[t20] at (2822,219) {设定值};
\node[t20,anchor=north east] at (2822,241) {\sg{PV-SV}，};
\node[t20] at (2822,241) {偏差值};
\node[t20,anchor=north east] at (2822,266) {\sg{out1}，};
\node[t20] at (2822,266) {调节输出1};
\node[t20,anchor=north east] at (2822,289) {\sg{out2}，};
\node[t20] at (2822,289) {调节输出2};
\node[t20,anchor=north east] at (2822,312) {\sg{ct1}，};
\node[t20] at (2822,312) {CT1电流};
\node[t20,anchor=north east] at (2822,335) {\sg{ct2}，};
\node[t20] at (2822,335) {CT2电流};
\node[t20,anchor=north east] at (2822,357) {\sg{SVoFb}，};
\node[t20] at (2822,357) {伺服位置};

\node[keycap] (k92) at (2691,396) {\kt{MENU}};
\node[secno] at (2615,397) {9-2};
\node[ttl] (t92) at (2627,417) {模拟发送量程下限};
\draw[arr] (d91) -- (d91.south |- t92.north);
\lcd{d92}{2627}{444}{AoS\_L}{0.0}{}
\node[txt,font=\fs{23}{24}] at (2715,446) {初值：发送参数的\\\hspace*{69pt}量程下限};

\node[keycap] (k93) at (2691,518) {\kt{MENU}};
\node[secno] at (2615,516) {9-3};
\node[ttl] (t93) at (2627,538) {模拟发送量程上限};
\draw[arr] (d92) -- (d92.south |- t93.north);
\lcd{d93}{2627}{565}{AoS\_H}{100.0}{}
\node[txt,font=\fs{23}{22}] at (2715,565) {初值：发送参数的\\\hspace*{69pt}量程上限};

\node[keycap] (k94) at (2691,635) {\kt{MENU}};
\node[secno] at (2615,636) {9-4};
\node[ttl] (t94) at (2627,656) {模拟发送限幅下限};
\draw[arr] (d93) -- (d93.south |- t94.north);
\lcd{d94}{2627}{682}{AoL\_L}{0.0}{}
\node[t25] at (2715,682) {初值：0.0\\范围：0.0～100.0\%};

\node[keycap] (k95) at (2693,750) {\kt{MENU}};
\node[secno] at (2612,774) {9-5};
\node[ttl] (t95) at (2627,798) {模拟发送限幅上限};
\draw[arr] (d94) -- (d94.south |- t95.north);
\lcd{d95}{2627}{823}{AoL\_H}{100.0}{}
\node[t25] at (2715,825) {初值：0.0\\范围：0.0～100.0\%};
\node[keycap] (k9r) at (2691,888) {\kt{MENU}};
\node[ttl] (r90) at (2627,928) {返回9-0 窗口};
\draw[arr] (d95) -- (d95.south |- r90.north);

% ---------------- links between the top windows
\draw[arr] ($(d00.north east)+(0,4)$) -- ($(d10.north west)+(0,4)$);
\draw[arr] ($(d10.north west)+(0,16)$) -- ($(d00.north east)+(0,16)$);
\draw[arr] ($(d10.north east)+(0,4)$) -- ($(d20.north west)+(0,4)$);
\draw[arr] ($(d20.north west)+(0,16)$) -- ($(d10.north east)+(0,16)$);
\draw[arr] ($(d20.north east)+(0,4)$) -- ($(d30.north west)+(0,4)$);
\draw[arr] ($(d30.north west)+(0,16)$) -- ($(d20.north east)+(0,16)$);
\draw[arr] ($(d30.north east)+(0,4)$) -- ($(d40.north west)+(0,4)$);
\draw[arr] ($(d40.north west)+(0,16)$) -- ($(d30.north east)+(0,16)$);
\draw[arr] ($(d40.north east)+(0,4)$) -- ($(d50.north west)+(0,4)$);
\draw[arr] ($(d50.north west)+(0,16)$) -- ($(d40.north east)+(0,16)$);
\draw[arr] ($(d50.north east)+(0,4)$) -- ($(d60.north west)+(0,4)$);
\draw[arr] ($(d60.north west)+(0,16)$) -- ($(d50.north east)+(0,16)$);
\draw[arr] ($(d60.north east)+(0,4)$) -- ($(d70.north west)+(0,4)$);
\draw[arr] ($(d70.north west)+(0,16)$) -- ($(d60.north east)+(0,16)$);
\draw[arr] ($(d70.north east)+(0,4)$) -- ($(d80.north west)+(0,4)$);
\draw[arr] ($(d80.north west)+(0,14)$) -- ($(d70.north east)+(0,14)$);
\draw[arr] ($(d80.north east)+(0,8)$) -- ($(d90.north west)+(0,8)$);
\draw[arr] ($(d90.north west)+(0,20)$) -- ($(d80.north east)+(0,20)$);

% ---------------- key explanations
\node[txt,font=\fs{23}{23}] at (588,1522) {按键说明：};
\node[draw, line width=1.2pt, anchor=north west, minimum width=549pt, minimum height=494pt, inner sep=0pt] (kbox) at (392,1560) {};
\node[keycap] (krun) at (440,1607) {\kt{RUN}};
\node[t20] at (477,1599) {按 3 秒则开始运行；再按 3 秒则会停止\\运行。};
\node[keycap] (kmenu) at (440,1665) {\kt{MENU}};
\node[txt,font=\fs{20}{20.3}] at (477,1651) {在窗口群内，按此键跳到下一个窗口；\\在基本窗口按住 3 秒即可由跳至1-0窗口群。\\在其它窗口群的顶级窗口中，按住 3 秒即可以\\回到基本窗口。\\在0-1A窗口按住 3 秒即可返回0-1窗口。};
\node[dnbtn] (kdn) at (422,1783) {};
\node[upbtn] (kup) at (449,1783) {};
\node[txt,font=\fs{20}{20}] at (472,1773) {可以在设定窗口中，用于增/减设定值,最\\后一位小数点闪烁。\\用于在窗口群的顶层窗口间移动。};
\node[lkey] (kleft) at (436,1865) {<};
\node[txt,font=\fs{20}{19.5}] at (474,1854) {设置数值时，移动选择数字为；在PID窗口群、\\EV和DO窗口群的顶层窗口中，选择相应的功能\\组号。};
\node[keycap] (kent) at (436,1940) {\kt{ENT}};
\node[txt,font=\fs{20}{20.4}] at (472,1928) {在各窗口中，保存设定后的参数，最后一位\\小数点闪动即会熄灭。\\在0-1窗口按住 3 秒即可进入0-1A窗口。\\在0-2窗口中，按住 3 秒后则转换成手动调节\\输出；再按住 3 秒后，则恢复为自动调节。};

% ---------------- table 1
\node[txt,font=\fs{25}{25}] at (1668,1006) {表一\hspace{8pt}输入类型与测量范围选择表};
\draw[line width=1.5pt] (1668,1035) rectangle (2023,1937);
\draw[line width=1pt] (1668,1059) -- (2023,1059);
\draw[line width=1pt] (1697,1059) -- (1697,1937);
\draw[line width=1pt] (1719,1059) -- (1719,1937);
\draw[line width=1pt] (1797,1035) -- (1797,1937);
\draw[line width=1pt] (1849,1035) -- (1849,1937);
\draw[line width=1pt] (1697,1317) -- (2023,1317);
\draw[line width=1pt] (1719,1484) -- (2023,1484);
\draw[line width=1pt] (1697,1645) -- (2023,1645);
\draw[line width=1pt] (1697,1773) -- (2023,1773);
\draw[line width=1pt] (1697,1897) -- (2023,1897);
\node[tcell,font=\fs{18}{18}] at (1735,1053) {输入类型};
\node[tcell,font=\fs{18}{18}] at (1823,1053) {代码};
\node[tcell,font=\fs{18}{18}] at (1936,1053) {测量范围};
\node[tcell,font=\fs{18}{18}] at (1682,1333) {自};
\node[tcell,font=\fs{18}{18}] at (1682,1409) {由};
\node[tcell,font=\fs{18}{18}] at (1682,1481) {输};
\node[tcell,font=\fs{18}{18}] at (1682,1553) {入};
\node[tcell,font=\fs{18}{18}] at (1709,1137) {热};
\node[tcell,font=\fs{18}{18}] at (1709,1173) {电};
\node[tcell,font=\fs{18}{18}] at (1709,1208) {偶};
\node[tcell,font=\fs{18}{18}] at (1709,1389) {铂};
\node[tcell,font=\fs{18}{18}] at (1709,1425) {电};
\node[tcell,font=\fs{18}{18}] at (1709,1461) {阻};
\node[tcell,font=\fs{18}{18}] at (1708,1693) {电};
\node[tcell,font=\fs{18}{18}] at (1708,1711) {压};
\node[tcell,font=\fs{18}{18}] at (1708,1821) {电};
\node[tcell,font=\fs{18}{18}] at (1708,1839) {压};
\node[tcell,font=\fs{18}{18}] at (1708,1914) {电};
\node[tcell,font=\fs{18}{18}] at (1708,1932) {流};
\trow{1077}{R}{r1}{-50.0}{1760.0 ℃}
\trow{1094}{K}{K1}{-270.0}{1370.0 ℃}
\trow{1111}{K}{K2}{0.0}{800.0 ℃}
\trow{1128}{K}{K3}{-200.0}{400.0 ℃}
\trow{1144}{K}{K4}{0.0}{300.0 ℃}
\trow{1161}{J}{J1}{-200.0}{1200.0 ℃}
\trow{1178}{J}{J2}{0.0}{600.0 ℃}
\trow{1195}{T}{t1}{-270.0}{400.0 ℃}
\trow{1212}{E}{E1}{-270.0}{1000.0 ℃}
\trow{1229}{S}{S1}{-50.0}{1760.0 ℃}
\trow{1246}{U}{U1}{-200.0}{400.0 ℃}
\trow{1262}{N}{n1}{-270.0}{1300.0 ℃}
\trow{1279}{B}{b1}{0.0}{1820.0 ℃}
\trow{1296}{WRe5-26}{S-26}{0.0}{2320.0 ℃}
\trow{1313}{PLII}{PL2}{0.0}{1390.0 ℃}
\node[tcell] at (1731,1279) {*1};
\trow{1335}{}{P1}{-200.0}{850.0℃}
\trow{1353}{}{P2}{-200.00}{300.00℃}
\trow{1370}{}{P3}{-100.00}{300.00℃}
\trow{1388}{}{P4}{-100.00}{200.00℃}
\trow{1405}{}{P5}{-100.00}{100.00℃}
\trow{1423}{}{P6}{0.00}{200.00℃}
\trow{1441}{}{P7}{0.00}{100.00℃}
\trow{1458}{}{P8}{-50.00}{50.00℃}
\trow{1476}{}{P9}{-20.000}{30.000℃}
\node[tcell] at (1758,1369) {Pt100};
\node[tcell] at (1758,1386) {JIS/IEC};
\trow{1501}{}{JP1}{-200.0}{500.0 ℃}
\trow{1518}{}{JP2}{-200.00}{300.00℃}
\trow{1536}{}{JP3}{-100.00}{300.00℃}
\trow{1553}{}{JP4}{-100.00}{200.00℃}
\trow{1571}{}{JP5}{-100.00}{100.00℃}
\trow{1588}{}{JP6}{0.00}{200.00℃}
\trow{1605}{}{JP7}{0.00}{100.00℃}
\trow{1623}{}{JP8}{-50.00}{50.00℃}
\trow{1640}{}{JP9}{-20.000}{30.000℃}
\node[tcell] at (1758,1506) {JPt100};
\node[tcell] at (1758,1524) {JIS};
\node[tcell] at (1758,1544) {(老分度)};
\trowb{1663}{\mm 1}{-100}{100}{mV}
\trowb{1680}{\mm 2}{0}{100}{mV}
\trowb{1698}{\mm 3}{0}{50}{mV}
\trowb{1715}{\mm 4}{10}{50}{mV}
\trowb{1732}{\mm 5}{0}{20}{mV}
\trowb{1750}{\mm 6}{-10}{10}{mV}
\trowb{1767}{\mm 7}{0}{10}{mV}
\node[tcell] at (1758,1702) {mV};
\trowb{1790}{V1}{-10}{10}{V}
\trowb{1807}{V2}{0}{10}{V}
\trowb{1824}{V3}{0}{5}{V}
\trowb{1841}{V4}{1}{5}{V}
\trowb{1858}{V5}{0}{2}{V}
\trowb{1875}{V6}{-1}{1}{V}
\trowb{1891}{V7}{0}{1}{V}
\node[tcell] at (1758,1830) {V};
\trowb{1914}{\mm A1}{0}{20}{mA}
\trowb{1932}{\mm A2}{4}{20}{mA}
\node[tcell] at (1758,1923) {mA};
\node[txt,font=\fs{20}{20.7}] at (1641,1949) {*1 B型热电偶400℃以下精度不做标定.\\注1：改变量程时,仪表的全部参数将被初始化.\\注2：量程选择需与仪表输入一致.\\注3：铂电阻(Pt100)与旧铂电阻(JPt100)的区别.};

% ---------------- table 2
\node[txt,font=\fs{25}{25}] at (2086,1006) {表二\hspace{8pt}报警动作方式表};
\draw[line width=1.5pt] (2089,1035) rectangle (2452,1683);
\draw[line width=1.2pt] (2271,1035) -- (2271,1683);
\draw[line width=1.2pt] (2089,1071) -- (2452,1071);
\draw[line width=1.2pt] (2089,1107) -- (2452,1107);
\draw[line width=1.2pt] (2089,1143) -- (2452,1143);
\draw[line width=1.2pt] (2089,1179) -- (2452,1179);
\draw[line width=1.2pt] (2089,1215) -- (2452,1215);
\draw[line width=1.2pt] (2089,1251) -- (2452,1251);
\draw[line width=1.2pt] (2089,1287) -- (2452,1287);
\draw[line width=1.2pt] (2089,1323) -- (2452,1323);
\draw[line width=1.2pt] (2089,1359) -- (2452,1359);
\draw[line width=1.2pt] (2089,1395) -- (2452,1395);
\draw[line width=1.2pt] (2089,1431) -- (2452,1431);
\draw[line width=1.2pt] (2089,1467) -- (2452,1467);
\draw[line width=1.2pt] (2089,1503) -- (2452,1503);
\draw[line width=1.2pt] (2089,1539) -- (2452,1539);
\draw[line width=1.2pt] (2089,1575) -- (2452,1575);
\draw[line width=1.2pt] (2089,1611) -- (2452,1611);
\draw[line width=1.2pt] (2089,1647) -- (2452,1647);
\node[acell] at (2180,1053) {动作方式};
\node[acell] at (2361,1053) {动作方式说明};
\arow{1089}{non}{未分配}
\arow{1125}{HA}{上限绝对值报警}
\arow{1161}{IA}{上下限绝对值内报警}
\arow{1197}{oA}{上下限绝对值外报警}
\arow{1233}{LA}{下限绝对值报警}
\arow{1269}{So}{超量程报警}
\arow{1305}{Hd}{上偏差报警}
\arow{1341}{Ld}{下偏差报警}
\arow{1377}{Id}{偏差内报警}
\arow{1413}{od}{偏差外报警}
\arow{1449}{run}{RUN信号}
\arow{1485}{ct1\_b}{CT1断线报警}
\arow{1521}{ct1\_L}{CT1回路报警}
\arow{1557}{ct2\_b}{CT2断线报警}
\arow{1593}{ct2\_L}{CT2回路报警}
\arow{1629}{ct3\_b}{3相断线报警}
\arow{1665}{ct3\_L}{3相回路报警}

% ---------------- table 3
\node[txt,font=\fs{24}{24}] at (2516,1004) {表三\hspace{6pt}DI功能分配表};
\draw[line width=1.5pt] (2516,1035) rectangle (2924,1424);
\draw[line width=1.2pt] (2584,1035) -- (2584,1424);
\draw[line width=1.2pt] (2666,1035) -- (2666,1424);
\draw[line width=1.2pt] (2748,1035) -- (2748,1424);
\draw[line width=1.2pt] (2516,1064) -- (2924,1064);
\draw[line width=1.2pt] (2516,1093) -- (2924,1093);
\draw[line width=1.2pt] (2516,1211) -- (2924,1211);
\draw[line width=1.2pt] (2516,1249) -- (2924,1249);
\draw[line width=1.2pt] (2516,1287) -- (2924,1287);
\draw[line width=1.2pt] (2516,1326) -- (2924,1326);
\draw[line width=1.2pt] (2516,1356) -- (2924,1356);
\draw[line width=1.2pt] (2516,1385) -- (2924,1385);
\node[dcell] at (2550,1050) {DI代码};
\node[dcell] at (2625,1050) {功能类型};
\node[dcell] at (2707,1050) {输入信号};
\node[dcell] at (2836,1050) {备注};
\node[dcode] at (2550,1078) {non};
\node[dcell] at (2625,1078) {未分配};
\node[dcode] (sa1) at (2550,1110) {SV1};
\node[dcode] (sa8) at (2550,1198) {SV8};
\draw[arr, line width=0.9pt] (sa1) -- (sa8);
\node[dcell] (sb1) at (2626,1110) {SV1};
\node[dcell] (sb8) at (2626,1198) {SV8};
\draw[arr, line width=0.9pt] (sb1) -- (sb8);
\node[dcell] at (2707,1152) {电平};
\node[dnote] at (2753,1152) {DI短路时，选择SV号};
\node[dcode] at (2550,1230) {SV\_3b};
\node[dcell] at (2625,1230) {SV3位选择};
\node[dcell] at (2707,1230) {电平};
\node[dnote] at (2753,1230) {用3点DI选择SV号};
\node[dcode] at (2550,1268) {run};
\node[dcell] at (2625,1268) {控制运行};
\node[dcell] at (2707,1268) {电平};
\node[dnote] at (2753,1268) {DI短路时，运行\\DI开路时，待机};
\node[dcode] at (2550,1306) {\mm An};
\node[dcell] at (2625,1306) {手动控制};
\node[dcell] at (2707,1306) {电平};
\node[dnote] at (2753,1306) {DI短路时，手动控制\\DI开路时，自动控制};
\node[dcode] at (2550,1341) {At};
\node[dcell] at (2625,1341) {自整定};
\node[dcell] at (2707,1341) {边沿};
\node[dnote] at (2753,1341) {开关点动，启动自整定};
\node[dcode] at (2550,1370) {L\_rS};
\node[dcell] at (2625,1370) {解除自锁};
\node[dcell] at (2707,1370) {边沿};
\node[dnote] at (2753,1370) {开关点动，解除所有报警自锁};
\node[dcode] at (2550,1404) {LocK};
\node[dcell] at (2625,1404) {超级按键锁};
\node[dcell] at (2707,1404) {电平};
\node[dnote] at (2753,1404) {DI短路时，按键全部锁定\\DI开路时，解除按键锁定};

% ---------------- PID notes
\node[txt,font=\fs{17}{18.5}\addfontfeature{LetterSpace=25}] at (2169,1829) {双自由度PID的设置：\\A= 任意值,B=0,比例型；\\A=任意值,B=任意值,比例微分\\型。用于对过冲和目标跟踪\\同时具有一定要求的控制系统。\\减少A值可提高对SV变化的响应\\速度；增加A值可减小因SV变化\\引起的过冲。\\减少B值可提高斜坡的跟踪性能；\\增加A值可减小斜坡末端的过冲};
\node[txt,font=\fs{19}{20.6}\addfontfeature{LetterSpace=18}] at (2542,1829) {单自由度PID的设置：\\A=1,B=1,比例微分超前,用于定\\值控制。\\A=1,B=0,比例超前；\\A=0,B=1，微分超前。对\\ SV变化的响应滞后，过\\冲小；斜坡控制，跟踪滞后。\\A=0,B=0,偏差PID,跟踪性好，\\用于串级控制。};
\end{tikzpicture}
\end{document}
